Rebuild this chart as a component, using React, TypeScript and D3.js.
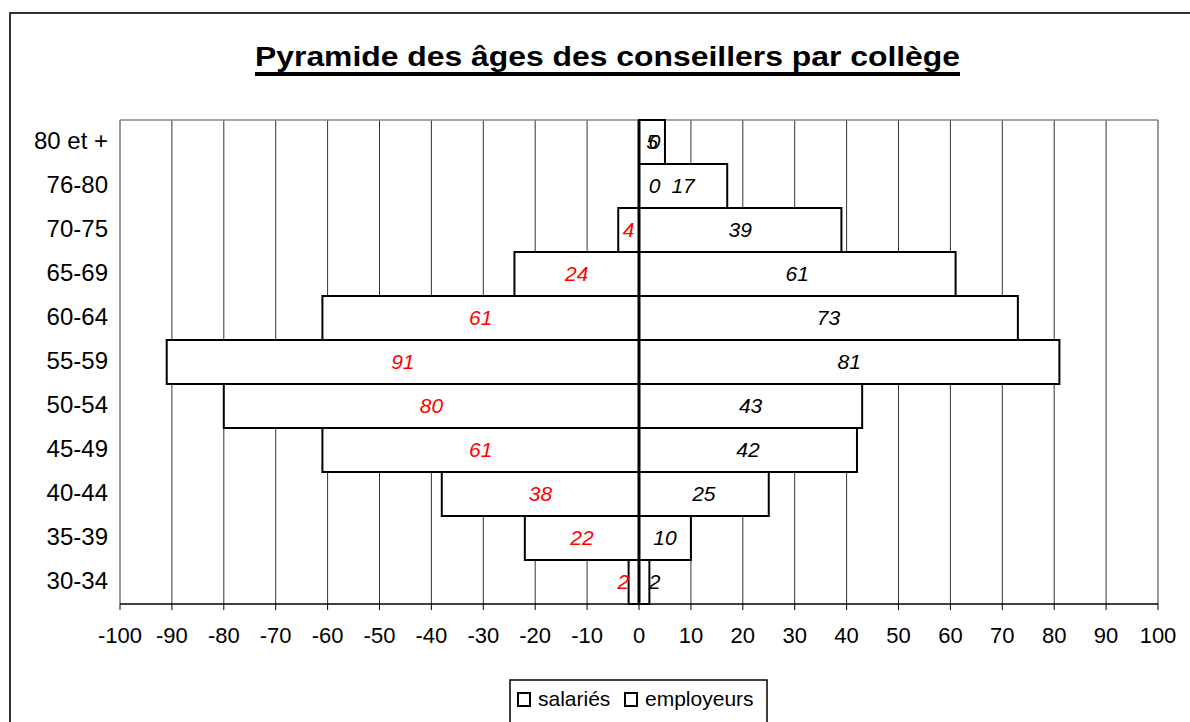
import React from "react";
import * as d3 from "d3";

const categories = ["80 et +", "76-80", "70-75", "65-69", "60-64", "55-59", "50-54", "45-49", "40-44", "35-39", "30-34"];
const salaries = [0, 0, 4, 24, 61, 91, 80, 61, 38, 22, 2];
const employeurs = [5, 17, 39, 61, 73, 81, 43, 42, 25, 10, 2];
const xTicks = d3.range(-100, 101, 10);
const title = "Pyramide des âges des conseillers par collège";
const legendLabels = ["salariés", "employeurs"];

const W = 1190, H = 722;
const plot = { left: 120, right: 1158, top: 120, bottom: 604 };
const font = "'Liberation Sans', Arial, sans-serif";

export default function App() {
  const x = d3.scaleLinear().domain([-100, 100]).range([plot.left, plot.right]);
  const y = d3.scaleBand().domain(categories).range([plot.top, plot.bottom]).paddingInner(0).paddingOuter(0);
  const bw = y.bandwidth();

  const labelX = (v: number, side: number) => {
    if (Math.abs(v) < 3) return x(side * 3);
    return x((side * v) / 2);
  };

  return (
    <svg width={W} height={H} style={{ position: "absolute", left: 0, top: 0, background: "#fff" }} fontFamily={font}>
      <rect x={10} y={13} width={1200} height={720} fill="#fff" stroke="#333" strokeWidth={2} />
      <text x={255} y={66} fontSize={27} fontWeight="bold" textLength={705} lengthAdjust="spacingAndGlyphs">{title}</text>
      <line x1={255} x2={960} y1={74} y2={74} stroke="#000" strokeWidth={4} />

      {/* grid */}
      {xTicks.map((t) => (
        <line key={"g" + t} x1={x(t)} x2={x(t)} y1={plot.top} y2={plot.bottom} stroke="#333" strokeWidth={1} />
      ))}
      <line x1={plot.left} x2={plot.right} y1={plot.top} y2={plot.top} stroke="#888" strokeWidth={1.5} />

      {/* bars */}
      {categories.map((c, i) => (
        <g key={c}>
          <rect x={x(-salaries[i])} y={y(c)!} width={x(0) - x(-salaries[i])} height={bw} fill="#fff" stroke="#000" strokeWidth={2} />
          <rect x={x(0)} y={y(c)!} width={x(employeurs[i]) - x(0)} height={bw} fill="#fff" stroke="#000" strokeWidth={2} />
        </g>
      ))}

      {/* center axis */}
      <line x1={x(0)} x2={x(0)} y1={plot.top} y2={plot.bottom} stroke="#000" strokeWidth={3} />

      {/* labels */}
      {categories.map((c, i) => {
        const cy = y(c)! + bw / 2 + 7;
        const s = salaries[i];
        const e = employeurs[i];
        return (
          <g key={"l" + c} fontSize={21} fontStyle="italic">
            <text x={s === 0 ? x(3) : labelX(s, -1)} y={cy} textAnchor="middle" fill={s === 0 ? "#000" : "#ff0000"}>{s}</text>
            <text x={labelX(e, 1)} y={cy} textAnchor="middle" fill="#000">{e}</text>
          </g>
        );
      })}

      {/* bottom axis */}
      <line x1={plot.left} x2={plot.right} y1={plot.bottom} y2={plot.bottom} stroke="#000" strokeWidth={1.5} />
      {xTicks.map((t) => (
        <g key={"t" + t}>
          <line x1={x(t)} x2={x(t)} y1={plot.bottom} y2={plot.bottom + 6} stroke="#000" strokeWidth={1} />
          <text x={x(t)} y={plot.bottom + 39} textAnchor="middle" fontSize={22}>{t}</text>
        </g>
      ))}

      {/* category axis */}
      {categories.map((c) => (
        <text key={"c" + c} x={108} y={y(c)! + bw / 2 + 7} textAnchor="end" fontSize={24}>{c}</text>
      ))}

      {/* legend */}
      <rect x={510} y={680} width={257} height={60} fill="#fff" stroke="#000" strokeWidth={1.5} />
      <rect x={518} y={693} width={12} height={13} fill="#fff" stroke="#000" strokeWidth={2} />
      <text x={538} y={706} fontSize={21}>{legendLabels[0]}</text>
      <rect x={625} y={693} width={12} height={13} fill="#fff" stroke="#000" strokeWidth={2} />
      <text x={645} y={706} fontSize={21}>{legendLabels[1]}</text>
    </svg>
  );
}
